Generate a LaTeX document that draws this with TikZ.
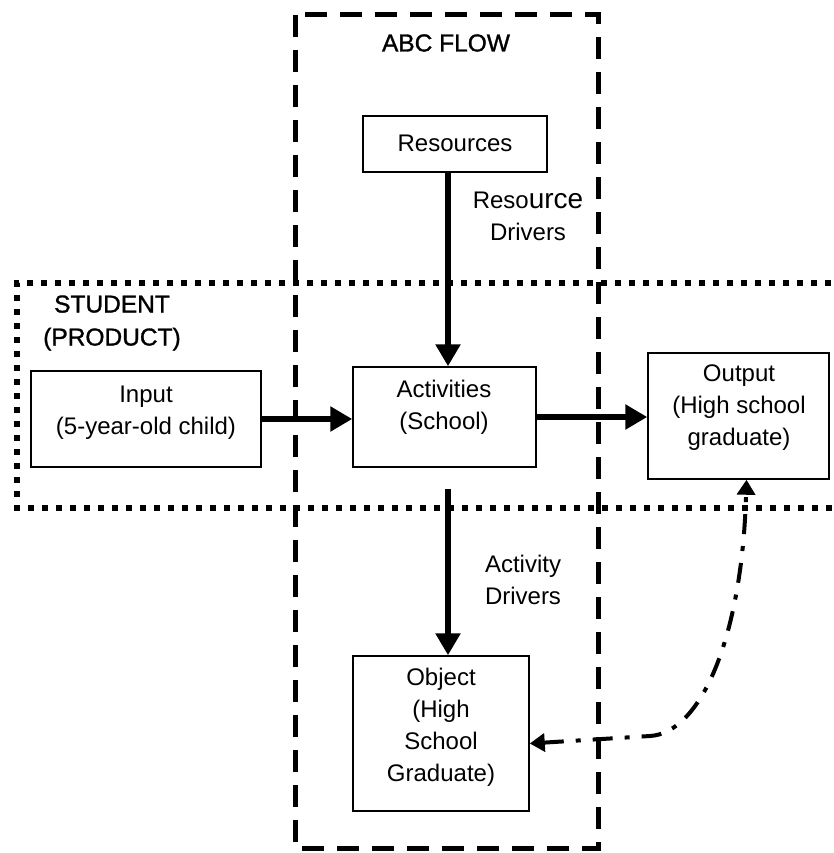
\documentclass[tikz,border=0pt]{standalone}
\usepackage{fontspec}
\setmainfont{Liberation Sans}
\newfontfamily\semib[FakeBold=1.2]{Liberation Sans}
\usetikzlibrary{arrows.meta}
\begin{document}
\begin{tikzpicture}[x=1pt,y=-1pt,
 box/.style={draw,line width=1.5pt,fill=white,inner sep=0pt},
 txt/.style={align=center,font=\fontsize{24}{32}\selectfont,inner sep=0pt},
 head/.style={align=center,font=\fontsize{24.5}{33}\semib,inner sep=0pt},
 arr/.style={line width=6pt,-{Triangle[length=22pt,width=24pt]}},
 abc/.style={line width=5pt,dash pattern=on 22pt off 13pt},
 dotbox/.style={line width=6pt,dash pattern=on 6pt off 8pt},
 dd/.style={line width=4pt,dash pattern=on 20pt off 12pt on 5pt off 12pt,
   {Triangle[length=15pt,width=18pt]}-{Triangle[length=15pt,width=18pt]}}]
\useasboundingbox (0,0) rectangle (833,853);
\clip (0,0) rectangle (833,853);
% frames
\draw[abc] (295,15) rectangle (598,848);
\draw[dotbox] (845,283) -- (17,283) -- (17,508) -- (845,508);
% boxes
\node[box,minimum width=184pt,minimum height=56pt] (res) at (455,144) {};
\node[box,minimum width=183pt,minimum height=100pt] (act) at (444.5,417) {};
\node[box,minimum width=230pt,minimum height=96pt] (inp) at (146,419) {};
\node[box,minimum width=181pt,minimum height=126pt] (out) at (738.5,416) {};
\node[box,minimum width=176pt,minimum height=155pt] (obj) at (441,733.5) {};
% texts
\node[head] (abcT) at (446,43) {ABC FLOW};
\node[txt] (resT) at (455,143) {Resources};
\node[txt] (rdT) at (528,216) {Reso{\fontsize{28}{32}\selectfont urce}\\Drivers};
\node[head] (stuT) at (112,323) {STUDENT\\(PRODUCT)};
\node[txt] (inpT) at (146,413) {Input\\(5-year-old child)};
\node[txt] (actT) at (444,407) {Activities\\(School)};
\node[txt] (outT) at (739,408) {Output\\(High school\\graduate)};
\node[txt] (adT) at (523,580) {Activity\\Drivers};
\node[txt] (objT) at (441,727) {Object\\(High\\School\\Graduate)};
% connectors
\coordinate (ax) at (448,0);
\draw[arr] (res.south -| ax) -- (act.north -| ax);
\draw[arr] ([yshift=-21pt]act.south -| ax) -- (obj.north -| ax);
\draw[arr] (inp.east) -- (inp.east -| act.west);
\draw[arr] (act.east) -- (act.east -| out.west);
\draw[dd] ([yshift=-10pt]obj.east) -- (650,736) .. controls (700,733) and (742,640) .. ([xshift=8pt]out.south);
\end{tikzpicture}
\end{document}
